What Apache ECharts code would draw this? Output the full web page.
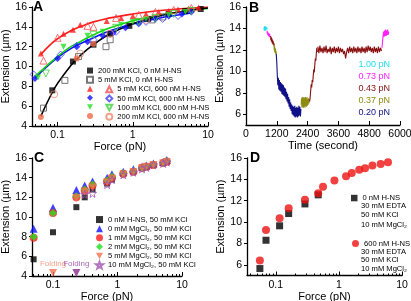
<!DOCTYPE html>
<html>
<head>
<meta charset="utf-8">
<script src="https://cdn.jsdelivr.net/npm/echarts@6/dist/echarts.min.js"></script>
<style>
  html, body { margin: 0; padding: 0; background: #fff; }
  #chart { width: 411px; height: 301px; }
</style>
</head>
<body>
<div id="chart"></div>
<script>
// ---- panel A: force-extension, KCl series (force in pN, extension in um)
var aFitBlackF = [0.06, 0.08, 0.1, 0.15, 0.2, 0.3, 0.5, 1, 2, 5, 10];
var aFitBlackE = [5.0, 7.0, 8.3, 10.1, 11.1, 12.2, 13.3, 14.3, 15.0, 15.6, 15.9];
var aFitRedF = [0.06, 0.08, 0.1, 0.15, 0.2, 0.3, 0.5, 1, 2, 5, 10];
var aFitRedE = [11.2, 12.2, 12.8, 13.6, 14.0, 14.5, 14.9, 15.3, 15.6, 15.85, 16.0];
var aFitBlueF = [0.05, 0.07, 0.1, 0.15, 0.2, 0.3, 0.5, 1, 2, 4, 6];
var aFitBlueE = [8.8, 9.9, 10.9, 11.8, 12.3, 12.9, 13.6, 14.3, 14.8, 15.2, 15.4];
var aFitGreenF = [0.05, 0.07, 0.1, 0.15, 0.2, 0.3, 0.5, 1, 2, 5, 10];
var aFitGreenE = [9.0, 10.0, 11.0, 12.0, 12.5, 13.2, 13.9, 14.6, 15.1, 15.6, 15.85];

var aBlackFillF = [0.085, 0.16, 0.3, 0.5, 0.9, 1.6, 3, 5, 8];
var aBlackFillE = [7.6, 10.5, 12.2, 13.3, 14.1, 14.8, 15.3, 15.6, 15.8];
var aBlackOpenF = [0.065, 0.125, 0.19, 0.44, 0.5, 1.8, 2.5];
var aBlackOpenE = [5.8, 8.6, 11.0, 12.0, 12.7, 14.7, 15.0];
var aRedFillF = [0.06, 0.12, 0.16, 0.2, 0.45, 0.7, 1.0, 1.5, 2.2, 3, 4, 5.5, 7.5];
var aRedFillE = [11.3, 13.3, 13.7, 14.2, 14.6, 14.9, 15.1, 15.3, 15.5, 15.6, 15.75, 15.85, 15.95];
var aRedOpenF = [0.065, 0.1, 0.25, 0.3, 0.6, 1.2, 2, 3.5, 6];
var aRedOpenE = [10.6, 12.9, 14.1, 14.0, 14.9, 15.2, 15.5, 15.7, 15.9];
var aBlueFillF = [0.05, 0.1, 0.18, 0.25, 0.4, 0.55, 0.8, 1.2, 2, 3, 4.5, 6];
var aBlueFillE = [8.8, 10.8, 12.0, 12.5, 13.1, 13.4, 13.9, 14.3, 14.8, 15.1, 15.3, 15.5];
var aBlueOpenF = [0.048, 0.11, 0.18, 0.3, 0.6, 1.5, 2.5, 4];
var aBlueOpenE = [9.2, 11.2, 12.1, 12.7, 13.5, 14.5, 14.8, 15.1];
var aGreenFillF = [0.055, 0.12, 0.25, 0.4, 0.7, 1, 1.5, 3, 5];
var aGreenFillE = [8.9, 12.0, 13.1, 13.5, 14.2, 14.5, 14.8, 15.2, 15.5];
var aGreenOpenF = [0.07, 0.3, 0.6, 1.2, 2, 3.5, 6];
var aGreenOpenE = [9.3, 13.2, 13.9, 14.5, 14.9, 15.3, 15.6];
var aOrangeFillF = [0.06, 0.18, 0.3];
var aOrangeFillE = [4.9, 10.8, 12.3];
var aOrangeOpenF = [0.09, 0.2, 0.5, 1.5];
var aOrangeOpenE = [7.2, 11.3, 13.3, 14.7];

// ---- panel B: extension trace vs time, sampled from t0 every dt seconds
var bCyanE = [14.1, 13.8, 14.2, 13.9, 14.1, 13.8, 14.0, 14.2, 13.9, 14.0, 13.8, 14.1, 13.9];            // 700 s, 10 s
var bMagenta1E = [13.8, 13.5, 13.7, 13.4, 13.6, 13.3, 13.6, 13.4, 13.5, 13.2, 13.5, 13.3, 13.4, 13.2, 13.3]; // 820 s, 10 s
var bWine1E = [13.3, 12.9, 13.2, 12.8, 13.1, 12.7, 13.0, 12.6, 12.9, 12.5, 12.8, 12.6, 12.7, 12.4, 12.6];    // 960 s, 10 s
var bOlive1E = [12.5, 12.0, 12.4, 11.8, 12.2, 11.7, 12.1, 11.6, 11.9, 11.5, 11.7];                     // 1090 s, 10 s
var bNavyE = [11.6, 10.8, 9.6, 8.7, 9.4, 8.3, 9.2, 8.2, 9.0, 8.1, 8.9, 7.9, 8.8, 7.8, 8.7, 7.7, 8.5,
  7.6, 8.4, 7.4, 8.1, 7.2, 7.9, 7.0, 7.6, 6.7, 7.4, 6.5, 7.1, 6.3, 6.9, 6.0, 6.8, 5.9, 6.7, 5.8, 6.8,
  5.7, 6.6, 5.8, 6.7, 5.7, 6.6, 5.8, 6.8, 5.9, 6.7, 5.8, 6.5];                                        // 1180 s, 20 s
var bOlive2E = [6.9, 7.5, 6.6, 7.6, 6.7, 7.5, 6.6, 7.6, 6.7, 7.5, 6.6, 7.6, 6.8, 7.5, 6.7, 7.6, 6.8,
  7.4, 6.9, 7.5, 7.0, 7.4, 7.2];                                                                     // 2150 s, 15 s
var bWine2aE = [7.2, 7.6, 8.2, 8.8, 8.5, 9.2, 9.0, 9.6, 10.2, 9.9, 10.6, 11.2, 11.0, 11.7, 12.2, 11.8]; // 2480 s, 20 s
var bWine2bE = [12.3, 11.7, 12.4, 11.8, 12.2, 11.7, 12.3, 11.8, 12.4, 11.7, 12.1, 11.8, 12.3, 11.6,
  12.2, 11.8, 12.3, 11.7, 12.2, 11.8, 12.3, 11.7, 12.2, 11.8, 12.1, 11.6, 11.9, 11.2, 11.8, 12.2, 11.7,
  12.3, 11.8, 12.2, 11.7, 12.3, 11.8, 12.2, 11.7, 12.3, 11.8, 12.2, 11.7, 12.3, 11.8, 12.2, 11.7, 12.3,
  11.8, 12.4, 11.9, 12.3, 11.8, 12.2, 11.7, 12.3, 11.8, 12.2, 11.7, 12.3, 11.8, 12.2, 11.9];           // 2800 s, 40 s
var bMagenta2E = [12.2, 12.8, 13.3, 13.7, 13.2, 13.8, 13.3, 13.9, 13.3, 13.8, 13.4, 13.9, 13.4, 13.7]; // 5300 s, 20 s
var bForceLabels = ['1.00 pN', '0.73 pN', '0.43 pN', '0.37 pN', '0.20 pN'];

// ---- panel C: MgCl2 series
var cForce = [0.05, 0.1, 0.23, 0.31, 0.41, 0.69, 0.82, 1.23, 1.76, 2.4, 2.8, 3.6, 5.1, 5.8];
var cNoHnsE = [5.7, 8.45, 11.0, 12.0, 12.8, 13.4, 13.8, 14.4, 14.6, 15.0, 15.1, 15.3, 15.5, 15.6];
var cMg0E = [8.8, 10.95, 12.75, 13.2, 13.6, 14.0, 14.35, 14.6, 14.85, 15.1, 15.25, 15.45, 15.6, 15.8];
var cMg1E = [7.9, 10.4, 12.0, 12.7, 13.2, 13.6, 14.0, 14.4, 14.6, 15.0, 15.1, 15.3, 15.5, 15.65];
var cMg2E = [8.0, 10.4, 12.1, 12.8, 13.3, 13.7, 14.1, 14.45, 14.65, 15.0, 15.15, 15.35, 15.5, 15.7];
var cMg5E = [null, null, 11.9, 12.6, 13.0, 13.5, 13.9, 14.3, 14.55, 14.95, 15.1, 15.3, 15.45, 15.6];
var cMg10E = [null, null, null, 12.3, 12.4, 13.3, 13.8, 14.3, 14.55, 14.9, 15.05, 15.3, 15.45, 15.6];
var cFoldF = [0.1, 0.23];
var cFoldE = [4, 4];

// ---- panel D: EDTA
var dForce = [0.056, 0.07, 0.115, 0.16, 0.29, 0.47, 0.56, 0.85, 1.3, 1.6, 2.1, 2.6, 3.4, 4.6, 6.0];
var dNoHnsE = [5.65, 8.3, 9.65, 10.8, 11.7, 12.55];
var dHnsE = [6.4, 9.25, 10.35, 11.3, 12.1, 12.7, 13.3, 13.9, 14.3, 14.6, 14.9, 15.05, 15.3, 15.45, 15.6];

// ticks
var logLabels = ['0.1', '1', '10'];
var logMinor = [0.04, 0.05, 0.06, 0.07, 0.08, 0.09, 0.2, 0.3, 0.4, 0.5, 0.6, 0.7, 0.8, 0.9, 2, 3, 4, 5, 6, 7, 8, 9];
var extTicks = [6, 8, 10, 12, 14, 16];

var FONT = '"Liberation Sans", Arial, sans-serif';
var DOWN = 'path://M0,0L10,0L5,9Z';
var STAR = 'path://M5,0L6.2,3.5L10,3.6L7,5.9L8.1,9.5L5,7.4L1.9,9.5L3,5.9L0,3.6L3.8,3.5Z';

function logPairs(fs, es) {
  var out = [];
  fs.forEach(function (f, i) { if (es[i] != null) out.push([Math.log10(f), es[i]]); });
  return out;
}
function trace(t0, dt, es) {
  return es.map(function (e, i) { return [t0 + i * dt, e]; });
}

var axisLine = { show: true, onZero: false, lineStyle: { color: '#000', width: 1.3 } };
var nameStyle = { color: '#000', fontSize: 11, fontFamily: FONT };

function logX(grid, lo, gap) {
  var major = logLabels.map(function (s) { return Math.log10(+s); });
  return {
    type: 'value', gridIndex: grid, position: 'bottom',
    min: Math.log10(lo), max: 1,
    name: 'Force (pN)', nameLocation: 'middle', nameGap: gap, nameTextStyle: nameStyle,
    axisLine: axisLine, splitLine: { show: false },
    axisTick: { show: true, inside: true, length: 4, customValues: major, lineStyle: { color: '#000', width: 1 } },
    axisLabel: {
      show: true, customValues: major, margin: 4,
      color: '#000', fontSize: 10.5, fontFamily: FONT,
      formatter: function (v) { return logLabels[Math.round(v) + 1]; }
    }
  };
}
function minorX(grid, lo) {
  var vals = logMinor.filter(function (f) { return f > lo; }).map(Math.log10);
  return {
    type: 'value', gridIndex: grid, position: 'bottom', min: Math.log10(lo), max: 1,
    axisLine: { show: false, onZero: false }, splitLine: { show: false }, axisLabel: { show: false },
    axisTick: { show: true, inside: true, length: 2, customValues: vals, lineStyle: { color: '#000', width: 1 } }
  };
}
function extY(grid, min, custom, gap) {
  var ax = {
    type: 'value', gridIndex: grid, position: 'left', min: min, max: 16,
    name: 'Extension (\u00b5m)', nameLocation: 'middle', nameGap: gap, nameTextStyle: nameStyle,
    axisLine: axisLine, splitLine: { show: false },
    axisTick: { show: true, length: 3, lineStyle: { color: '#000', width: 1 } },
    axisLabel: { margin: 5, color: '#000', fontSize: 10.5, fontFamily: FONT }
  };
  if (custom) {
    ax.axisTick.customValues = custom;
    ax.axisLabel.customValues = custom;
  } else {
    ax.interval = 2;
  }
  return ax;
}

function dots(name, xi, fs, es, symbol, size, color, open) {
  return {
    name: name, type: 'scatter', xAxisIndex: xi, yAxisIndex: xi, clip: false,
    symbol: symbol, symbolSize: size, z: 3,
    itemStyle: open ? { color: 'rgba(255,255,255,0)', borderColor: color, borderWidth: 1 } : { color: color },
    data: logPairs(fs, es)
  };
}
function fitLine(fs, es, color) {
  return {
    type: 'line', xAxisIndex: 0, yAxisIndex: 0, smooth: true, showSymbol: false, z: 2,
    lineStyle: { color: color, width: 1.6 }, data: logPairs(fs, es)
  };
}
function seg(t0, dt, es, color) {
  return {
    type: 'line', xAxisIndex: 1, yAxisIndex: 1, showSymbol: false, z: 2,
    lineStyle: { color: color, width: 1.1 }, data: trace(t0, dt, es)
  };
}

var RED = '#ff1a1a', BLUE = '#1010ff', GREEN = '#22e022', ORANGE = '#ee6a4a';
var CYAN = '#22dcf2', MAGENTA = '#ff22ff', WINE = '#8a0f0f', OLIVE = '#8c8c10', NAVY = '#101088';
var SALMON = '#f2714f', PURPLE = '#a052b0';

var legendText = {
  aBlackFill: '200 mM KCl, 0 nM H-NS',
  aBlackOpen: '5 mM KCl, 0 nM H-NS',
  aRedOpen: '5 mM KCl, 600 nM H-NS',
  aBlueOpen: '50 mM KCl, 600 nM H-NS',
  aGreenOpen: '100 mM KCl, 600 nM H-NS',
  aOrangeOpen: '200 mM KCl, 600 nM H-NS',
  c0: '0 nM H-NS, 50 mM KCl',
  c1: '0 mM MgCl\u2082, 50 mM KCl',
  c2: '1 mM MgCl\u2082, 50 mM KCl',
  c3: '2 mM MgCl\u2082, 50 mM KCl',
  c4: '5 mM MgCl\u2082, 50 mM KCl',
  c5: '10 mM MgCl\u2082, 50 mM KCl',
  d0: '0 nM H-NS',
  d1: '600 nM H-NS'
};
function legendBox(names, left, top, size) {
  return {
    data: names, orient: 'vertical', left: left, top: top, padding: 0, itemGap: 0,
    itemWidth: size, itemHeight: size, selectedMode: false,
    textStyle: { color: '#000', fontSize: 7.6, fontFamily: FONT, lineHeight: 9.1 },
    formatter: function (n) { return legendText[n] || ' '; }
  };
}

var chart = echarts.init(document.getElementById('chart'), null, { renderer: 'canvas' });

var series = [
  fitLine(aFitRedF, aFitRedE, RED),
  fitLine(aFitBlueF, aFitBlueE, BLUE),
  fitLine(aFitGreenF, aFitGreenE, '#10d010'),
  fitLine(aFitBlackF, aFitBlackE, '#000'),
  dots('aBlackFill', 0, aBlackFillF, aBlackFillE, 'rect', 6, '#000', false),
  dots('aBlackOpen', 0, aBlackOpenF, aBlackOpenE, 'rect', 6, '#555', true),
  dots('aRedFill', 0, aRedFillF, aRedFillE, 'triangle', 6, RED, false),
  dots('aRedOpen', 0, aRedOpenF, aRedOpenE, 'triangle', 7, '#f05050', true),
  dots('aBlueFill', 0, aBlueFillF, aBlueFillE, 'diamond', 7, BLUE, false),
  dots('aBlueOpen', 0, aBlueOpenF, aBlueOpenE, 'diamond', 7, '#4040ff', true),
  dots('aGreenFill', 0, aGreenFillF, aGreenFillE, DOWN, 6, GREEN, false),
  dots('aGreenOpen', 0, aGreenOpenF, aGreenOpenE, DOWN, 7, '#40d040', true),
  dots('aOrangeFill', 0, aOrangeFillF, aOrangeFillE, 'circle', 6, ORANGE, false),
  dots('aOrangeOpen', 0, aOrangeOpenF, aOrangeOpenE, 'circle', 7, '#f08a70', true),

  seg(700, 10, bCyanE, CYAN),
  seg(820, 10, bMagenta1E, MAGENTA),
  seg(960, 10, bWine1E, WINE),
  seg(1090, 10, bOlive1E, OLIVE),
  seg(1180, 20, bNavyE, NAVY),
  seg(2150, 15, bOlive2E, OLIVE),
  seg(2480, 20, bWine2aE, WINE),
  seg(2800, 40, bWine2bE, WINE),
  seg(5300, 20, bMagenta2E, MAGENTA),

  dots('c0', 2, cForce, cNoHnsE, 'rect', 6, '#000', false),
  dots('c1', 2, cForce, cMg0E, 'triangle', 8, BLUE, false),
  dots('c2', 2, cForce, cMg1E, 'circle', 8, RED, false),
  dots('c3', 2, cForce, cMg2E, 'diamond', 8, GREEN, false),
  dots('c4', 2, cForce, cMg5E, DOWN, 8, SALMON, false),
  dots('c5', 2, cForce, cMg10E, STAR, 8, PURPLE, true),
  {
    type: 'scatter', xAxisIndex: 2, yAxisIndex: 2, clip: false, z: 4,
    symbol: DOWN, symbolSize: 8, symbolOffset: [0, -3],
    data: logPairs(cFoldF, cFoldE).map(function (p, i) {
      var col = i === 0 ? SALMON : '#8a2a8c';
      return {
        value: p, itemStyle: { color: col },
        label: { show: true, position: 'top', distance: 1, formatter: 'Folding',
          color: i === 0 ? '#f08a6a' : '#9a40a8', fontSize: 8, fontFamily: FONT }
      };
    })
  },

  dots('d0', 3, dForce, dNoHnsE, 'rect', 7, '#000', false),
  dots('d1', 3, dForce, dHnsE, 'circle', 8, '#ee1111', false)
];

var bColors = [CYAN, MAGENTA, WINE, OLIVE, NAVY];
var bRows = [65, 77, 89, 101, 113];
var graphics = [
  { type: 'text', left: 33, top: 0, style: { text: 'A', font: 'bold 14px ' + FONT, fill: '#000' } },
  { type: 'text', left: 249, top: 1, style: { text: 'B', font: 'bold 14px ' + FONT, fill: '#000' } },
  { type: 'text', left: 34, top: 151, style: { text: 'C', font: 'bold 14px ' + FONT, fill: '#000' } },
  { type: 'text', left: 250, top: 151, style: { text: 'D', font: 'bold 14px ' + FONT, fill: '#000' } }
];
bForceLabels.forEach(function (s, i) {
  graphics.push({ type: 'text', right: 21, top: bRows[i] - 5,
    style: { text: s, font: '9px ' + FONT, fill: bColors[i] } });
});
var dExtra = ['30 mM EDTA', '50 mM KCl', '10 mM MgCl\u2082'];
dExtra.forEach(function (s, i) {
  graphics.push({ type: 'text', left: 361, top: 202 + i * 9.3, style: { text: s, font: '7.6px ' + FONT, fill: '#000' } });
  graphics.push({ type: 'text', left: 361, top: 247.5 + i * 8.6, style: { text: s, font: '7.6px ' + FONT, fill: '#000' } });
});

chart.setOption({
  animation: false,
  backgroundColor: '#fff',
  textStyle: { fontFamily: FONT },
  grid: [
    { left: 32, top: 7, width: 176, height: 119, outerBoundsMode: 'none', containLabel: false },
    { left: 246, top: 7, width: 154, height: 118, outerBoundsMode: 'none', containLabel: false },
    { left: 32, top: 158, width: 150, height: 118, outerBoundsMode: 'none', containLabel: false },
    { left: 247, top: 158, width: 155, height: 117.5, outerBoundsMode: 'none', containLabel: false }
  ],
  xAxis: [
    logX(0, 0.0457, 14),
    {
      type: 'value', gridIndex: 1, position: 'bottom', min: 0, max: 6000, interval: 1200,
      name: 'Time (second)', nameLocation: 'middle', nameGap: 15, nameTextStyle: nameStyle,
      axisLine: axisLine, splitLine: { show: false },
      axisTick: { show: true, inside: true, length: 4, lineStyle: { color: '#000', width: 1 } },
      axisLabel: { margin: 4, color: '#000', fontSize: 10.5, fontFamily: FONT,
        formatter: function (v) { return String(v); } }
    },
    logX(2, 0.0472, 14),
    logX(3, 0.035, 14),
    minorX(0, 0.0457),
    minorX(2, 0.0472),
    minorX(3, 0.035)
  ],
  yAxis: [
    extY(0, 4, null, 19),
    extY(1, 5, extTicks, 17),
    extY(2, 4, null, 19),
    extY(3, 5, extTicks, 19)
  ],
  legend: [
    legendBox(['aBlackFill', 'aBlackOpen', 'aRedFill', 'aBlueFill', 'aGreenFill', 'aOrangeFill'], 86, 66, 6),
    legendBox(['aRedOpen', 'aBlueOpen', 'aGreenOpen', 'aOrangeOpen'], 105.3, 84.8, 6),
    legendBox(['c0', 'c1', 'c2', 'c3', 'c4', 'c5'], 95, 215, 7),
    legendBox(['d0'], 351, 193.5, 6.5),
    legendBox(['d1'], 352, 239, 7)
  ],
  graphic: graphics,
  series: series
});
</script>
</body>
</html>
